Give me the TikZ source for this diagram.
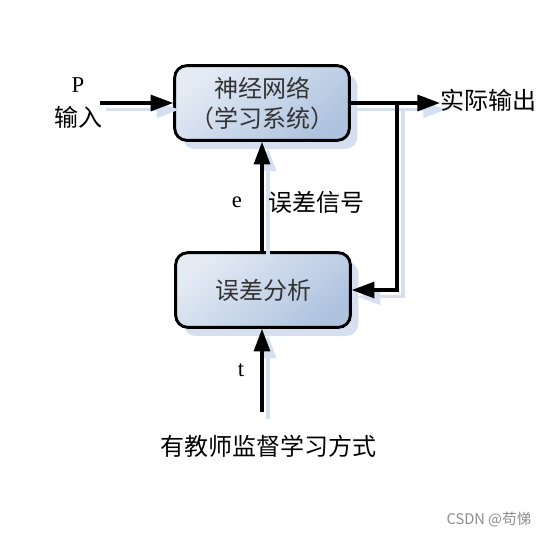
\documentclass[tikz,border=0pt]{standalone}
\usepackage{fontspec}
\setmainfont{Liberation Serif}
\newfontfamily\cjk{Noto Sans CJK SC}
\usetikzlibrary{arrows.meta,positioning,shadows}

\definecolor{boxlight}{HTML}{E4EBF5}
\definecolor{boxdark}{HTML}{AFC3DF}
\definecolor{shadowblue}{HTML}{D5DFEF}

\tikzset{
  block/.style={draw, line width=2.2pt, rounded corners=9pt,
    top color=boxlight, bottom color=boxdark, shading angle=40,
    minimum width=131pt, minimum height=56pt, align=center,
    text=black!80, font=\cjk\fontsize{18}{22.5}\selectfont,
    drop shadow={shadow xshift=6pt, shadow yshift=-6.5pt, fill=shadowblue, opacity=1}},
  flow/.style={line width=2.4pt, -{Triangle[length=17pt, width=12pt]}},
  flowshadow/.style={flow, draw=shadowblue, transform canvas={shift={(4.5pt,-5pt)}}},
  latin/.style={font=\fontsize{17}{20}\selectfont},
  cjklabel/.style={font=\cjk\fontsize{18}{20}\selectfont}
}

\begin{document}
\begin{tikzpicture}[x=0.75pt, y=-0.75pt]
  \useasboundingbox (0,0) rectangle (559,539);
  % blocks
  \node[block] (net) at (262,103) {神经网络\\（学习系统）};
  \node[block] (err) at (263,290) {误差分析};
  % free ends
  \coordinate (pin) at (100,103);
  \coordinate (yout) at (440,103);
  \coordinate (fb) at (397,103);
  \coordinate (tin) at (262,412);
  % shadows of the connectors
  \draw[flowshadow] (pin) -- (net.west);
  \draw[flowshadow] (net.east) -- (yout);
  \draw[flowshadow] (fb) |- (err.east);
  \draw[flowshadow] (err.north -| net.south) -- (net.south);
  \draw[flowshadow] (tin) -- (tin |- err.south);
  % connectors
  \draw[flow] (pin) -- (net.west);
  \draw[flow] (net.east) -- (yout);
  \draw[flow] (fb) |- (err.east);
  \draw[flow] (err.north -| net.south) -- (net.south);
  \draw[flow] (tin) -- (tin |- err.south);
  % labels
  \node[latin] (ptxt) at (78,85) {P};
  \node[cjklabel] (intxt) at (78,117) {输入};
  \node[cjklabel, anchor=west] (outtxt) at (436,100) {实际输出};
  \node[latin] (etxt) at (237,202) {e};
  \node[cjklabel, anchor=west] (errtxt) at (264,202) {误差信号};
  \node[latin] (ttxt) at (241,370) {t};
  \node[cjklabel] (mode) at (268,446) {有教师监督学习方式};
  \node[font=\cjk\fontsize{11}{13}\selectfont, text=black!45] (mark) at (489,520) {CSDN @苟悌};
\end{tikzpicture}
\end{document}
